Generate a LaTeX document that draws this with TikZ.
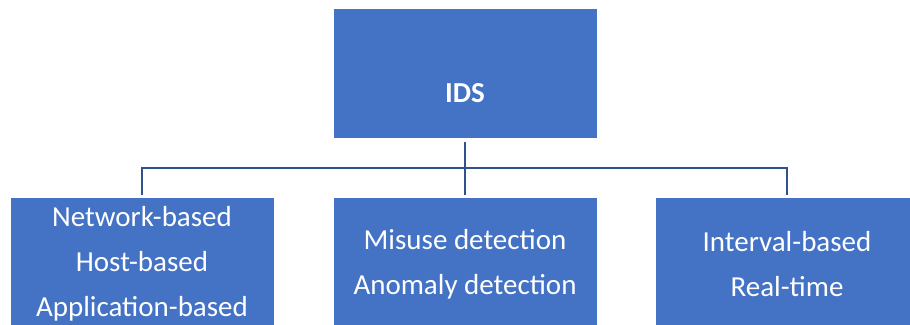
\documentclass[tikz,border=0pt]{standalone}
\usepackage{fontspec}
\setmainfont{Carlito}
\usetikzlibrary{positioning}
\definecolor{boxblue}{RGB}{68,114,196}
\definecolor{lineblue}{RGB}{47,82,143}
\tikzset{
  box/.style={fill=boxblue,draw=white,line width=0.8pt,minimum width=264pt,minimum height=130pt,
    inner sep=0pt,text=white,align=center,font=\fontsize{29}{45}\selectfont},
  lowbox/.style={box,minimum height=134pt},
  link/.style={draw=lineblue,line width=2pt}
}
\begin{document}
\begin{tikzpicture}[x=1pt,y=-1pt]
            \useasboundingbox (0,0) rectangle (910,324);
            \clip (0,0) rectangle (910,324);
            \node[box] (ids) at (465,73) {};
            \node[text=white,font=\fontsize{29}{45}\selectfont\bfseries] (idstxt) at (465,93) {IDS};
            \node[lowbox] (net) at (142,264) {Network-based\\Host-based\\Application-based};
            \node[lowbox] (mis) at (465,264) {Misuse detection\\Anomaly detection};
            \node[lowbox] (rt) at (787,264) {Interval-based\\Real-time};
            \coordinate (bar) at (465,167.5);
            \draw[link,shorten <=4pt,shorten >=2pt] (ids.south) -- (mis.north);
            \draw[link,shorten <=2pt,shorten >=2pt] (net.north) |- (bar) -| (rt.north);
        \end{tikzpicture}
\end{document}
